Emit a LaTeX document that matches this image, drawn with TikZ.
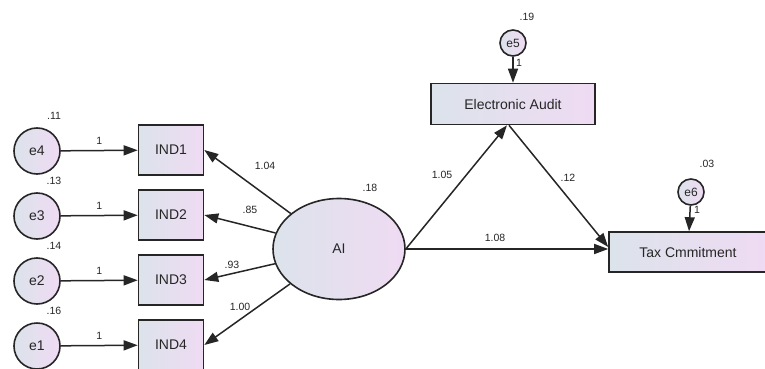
\documentclass[tikz,border=0pt]{standalone}
\usepackage{fontspec}
\setmainfont{Liberation Sans}
\usetikzlibrary{arrows.meta, calc, shapes.geometric}

\definecolor{shadeleft}{HTML}{DCE3EB}
\definecolor{shaderight}{HTML}{EFDBF3}
\definecolor{ink}{HTML}{262626}

\begin{document}
\begin{tikzpicture}[x=1pt, y=-1pt,
    obs/.style={draw=ink, line width=1.6pt, left color=shadeleft, right color=shaderight,
        text=ink, font=\fontsize{14}{16}\selectfont, inner sep=0pt},
    err/.style={circle, draw=ink, line width=1.6pt, left color=shadeleft, right color=shaderight,
        text=ink, inner sep=0pt},
    lbl/.style={text=ink, font=\fontsize{10.5}{12}\selectfont, inner sep=0pt},
    arr/.style={-{Triangle[length=14pt,width=10pt]}, draw=ink, line width=1.5pt}]
    \useasboundingbox (0,0) rectangle (765,369);

    % measurement part
    \foreach \i/\e/\v/\y in {1/4/.11/151, 2/3/.13/216, 3/2/.14/281, 4/1/.16/346} {
        \node[err, minimum size=46pt, font=\fontsize{14}{16}\selectfont] (e\e) at (37,\y) {e\e};
        \node[lbl] (var\e) at (54,\y-35) {\v};
        \node[obs, minimum width=65pt, minimum height=50pt] (ind\i) at (171,\y-1) {IND\i};
        \draw[arr] (e\e) -- (ind\i) node[lbl, midway, above=5pt] (one\e) {1};
    }

    \node[obs, ellipse, minimum width=132pt, minimum height=101pt] (ai) at (339,249) {AI};
    \node[lbl] (varai) at (370,188) {.18};
    \foreach \i in {1,...,4}
        \draw[arr] (ai) -- (ind\i.east);
    \node[lbl] (l1) at (265,166) {1.04};
    \node[lbl] (l2) at (250,210) {.85};
    \node[lbl] (l3) at (232,265) {.93};
    \node[lbl] (l4) at (240,307) {1.00};

    % structural part
    \node[obs, minimum width=164pt, minimum height=41pt] (ea) at (513,104) {Electronic Audit};
    \node[obs, minimum width=158pt, minimum height=40pt] (tax) at (688,252) {Tax Cmmitment};
    \node[err, minimum size=26pt, font=\fontsize{12}{14}\selectfont] (e5) at (513,43) {e5};
    \node[err, minimum size=26pt, font=\fontsize{12}{14}\selectfont] (e6) at (691,192) {e6};
    \node[lbl] (var5) at (527,17) {.19};
    \node[lbl] (var6) at (707,164) {.03};
    \draw[arr] (e5) -- (ea);
    \draw[arr] (e6) -- (tax);
    \node[lbl] (one5) at (519,63) {1};
    \node[lbl] (one6) at (697,210) {1};

    \draw[arr] (ai.east) -- ($(ea.south)+(-6,0)$);
    \draw[arr] ($(ea.south)+(-4,0)$) -- ($(tax.west)+(0,-5)$);
    \draw[arr] (ai.east) -- (tax.west |- ai.east);
    \node[lbl] (l5) at (442,175) {1.05};
    \node[lbl] (l6) at (568,178) {.12};
    \node[lbl] (l7) at (495,238) {1.08};
\end{tikzpicture}
\end{document}
